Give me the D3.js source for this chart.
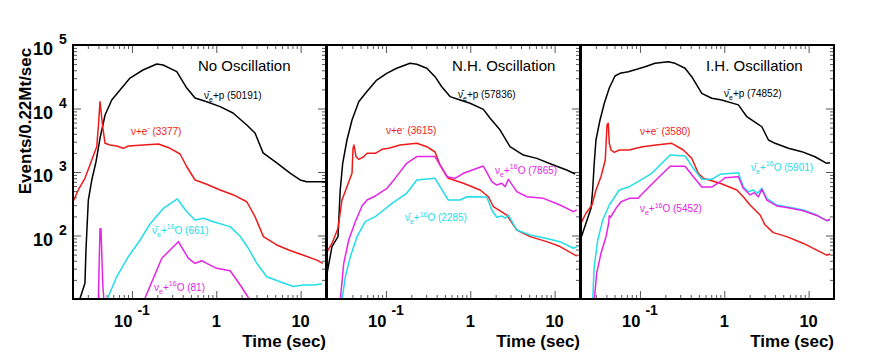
<!DOCTYPE html>
<html>
<head>
<meta charset="utf-8">
<script src="https://cdn.jsdelivr.net/npm/d3@7.9.0/dist/d3.min.js"></script>
<style>
  body { margin: 0; background: #fff; }
  svg { display: block; font-family: "Liberation Sans", Arial, Helvetica, sans-serif; }
</style>
</head>
<body>
<svg id="chart" width="872" height="364"></svg>
<script>
// panel titles and event totals
const panelTitles = ['No Oscillation', 'N.H. Oscillation', 'I.H. Oscillation'];
const countsP = [50191, 57836, 74852];
const countsE = [3377, 3615, 3580];
const countsBarO = [661, 2285, 5901];
const countsO = [81, 7865, 5452];

// [time (sec), events / 0.22Mt / sec] ; null value = gap
const noOscP = [[0.0238, 9.5], [0.0277, 17.7], [0.0285, 59], [0.0304, 362], [0.0334, 748], [0.0375, 1452], [0.0418, 3400], [0.048, 7900], [0.0576, 13600], [0.0722, 19500], [0.0949, 30200], [0.135, 40400], [0.197, 50200], [0.234, 48400], [0.34, 38000], [0.447, 21000], [0.56, 14600], [0.771, 12800], [1.11, 10700], [1.58, 8500], [2.3, 5500], [2.88, 4100], [3.59, 2000], [5.21, 1390], [7.5, 960], [9.86, 750], [11.8, 700], [19.5, 700]];
const noOscE = [[0.02, 340], [0.0231, 521], [0.0277, 796], [0.0334, 1545], [0.0382, 2500], [0.0401, 5500], [0.0418, 12800], [0.045, 5160], [0.048, 2830], [0.055, 2660], [0.0659, 2565], [0.079, 2360], [0.0906, 2565], [0.136, 2660], [0.206, 2760], [0.283, 2360], [0.372, 1920], [0.447, 1210], [0.56, 748], [0.771, 640], [1.11, 521], [1.6, 435], [2.3, 340], [2.88, 198], [3.62, 96], [5.21, 71], [7.5, 58], [10.8, 49], [15.6, 41], [18.3, 36.5]];
const noOscBarO = [[0.0502, 9.5], [0.0659, 22.4], [0.0906, 46.4], [0.125, 85], [0.164, 152], [0.236, 268], [0.345, 376], [0.447, 237], [0.56, 175], [0.703, 187], [0.923, 165], [1.46, 138], [1.91, 98], [2.4, 63], [3.02, 36.5], [3.97, 22.4], [5.71, 18.7], [8.21, 15.7], [10.8, 16.6], [14.2, 16.6], [17.8, 17.2]];
const noOscO = [[0.0399, 9], [0.0418, 128], [0.0429, 128], [0.0452, 16], [0.0467, 9], [0.1, null], [0.139, 9.5], [0.226, 43.7], [0.283, 59], [0.355, 80], [0.467, 43.7], [0.56, 36.5], [0.673, 40], [0.771, 36.5], [1.01, 30.4], [1.46, 27.9], [1.75, 19.9], [2.0, 15.3], [2.52, 9.5]];

const nhP = [[0.02, 25], [0.0229, 66.7], [0.027, 95.7], [0.0287, 521], [0.0307, 1370], [0.0345, 3190], [0.0396, 6590], [0.0476, 12800], [0.0591, 18400], [0.0778, 28100], [0.102, 35800], [0.134, 43000], [0.193, 51500], [0.232, 49700], [0.305, 43000], [0.382, 31700], [0.459, 22000], [0.576, 15400], [0.757, 13600], [0.994, 12100], [1.43, 9700], [1.72, 7020], [2.26, 4580], [2.96, 2500], [4.26, 1850], [6.15, 1640], [9.68, 1290], [13.9, 1075], [17.5, 930]];
const nhE = [[0.02, 55], [0.0229, 75], [0.027, 130], [0.0301, 362], [0.0345, 587], [0.0396, 955], [0.0407, 2360], [0.0418, 2660], [0.0442, 1740], [0.0476, 1585], [0.0545, 1740], [0.0597, 1970], [0.0749, 1970], [0.0898, 2275], [0.108, 2360], [0.147, 2660], [0.232, 2830], [0.305, 2500], [0.382, 2065], [0.438, 1290], [0.549, 796], [0.828, 664], [1.31, 521], [1.64, 408], [1.88, 284], [2.71, 210], [3.56, 122], [5.12, 96], [8.07, 80], [11.6, 67], [18.3, 47.5]];
const nhBarO = [[0.0301, 9.5], [0.033, 22.4], [0.0378, 46.4], [0.0454, 95.7], [0.0569, 165], [0.0749, 198], [0.0942, 252], [0.118, 321], [0.176, 462], [0.232, 748], [0.382, 796], [0.549, 362], [0.757, 362], [0.908, 408], [1.57, 404], [1.8, 252], [2.06, 194], [2.36, 203], [2.59, 187], [2.83, 210], [3.56, 122], [5.12, 102], [8.07, 90], [11.6, 80], [16.7, 63], [18.3, 66.5]];
const nhO = [[0.0287, 9.5], [0.0316, 36.5], [0.0362, 85], [0.0433, 165], [0.052, 292], [0.0597, 362], [0.0749, 419], [0.0898, 490], [0.103, 553], [0.129, 800], [0.176, 1370], [0.232, 1754], [0.382, 1754], [0.526, 843], [0.659, 796], [0.828, 955], [1.43, 1242], [1.8, 703], [2.06, 624], [2.36, 664], [2.59, 587], [2.83, 767], [3.56, 490], [4.68, 408], [7.36, 385], [11.6, 302], [16.7, 237], [18.3, 253]];

const ihP = [[0.02, 91], [0.0229, 156], [0.0263, 268], [0.0275, 521], [0.0287, 1370], [0.0301, 3190], [0.0336, 6590], [0.0378, 12100], [0.0433, 21000], [0.0506, 32500], [0.058, 35800], [0.0728, 38000], [0.0916, 41400], [0.115, 45500], [0.151, 51500], [0.217, 54600], [0.261, 51500], [0.343, 43000], [0.411, 31700], [0.541, 17300], [0.71, 14500], [0.933, 13600], [1.47, 11400], [1.85, 7430], [2.43, 5850], [2.79, 5160], [3.34, 3190], [4.0, 2830], [5.76, 2360], [8.3, 2090], [11.9, 1740], [16.4, 1370], [18.0, 1400]];
const ihE = [[0.02, 156], [0.0229, 224], [0.027, 302], [0.0301, 521], [0.0345, 843], [0.0388, 1545], [0.0407, 5500], [0.0421, 5850], [0.0433, 2830], [0.0454, 2220], [0.0496, 2040], [0.0569, 2220], [0.0749, 2220], [0.0898, 2360], [0.108, 2500], [0.155, 2660], [0.238, 2830], [0.327, 2220], [0.411, 1644], [0.492, 955], [0.565, 796], [0.891, 664], [1.41, 521], [1.68, 408], [2.02, 302], [2.66, 210], [3.05, 146], [3.82, 111], [5.51, 96], [8.67, 75], [12.5, 59], [16.4, 49], [18.0, 51]];
const ihBarO = [[0.0275, 9.5], [0.0287, 32.3], [0.0316, 85], [0.0362, 175], [0.0433, 302], [0.0569, 521], [0.0749, 587], [0.0949, 703], [0.138, 955], [0.228, 1854], [0.343, 1787], [0.43, 1143], [0.541, 767], [0.71, 767], [0.891, 920], [1.47, 975], [1.68, 587], [1.93, 490], [2.21, 521], [2.47, 462], [2.79, 553], [3.19, 385], [4.19, 302], [5.51, 284], [8.67, 252], [12.5, 210], [16.4, 171], [18.0, 175]];
const ihO = [[0.0287, 9.5], [0.0307, 25.4], [0.0345, 52.5], [0.0396, 95.7], [0.0424, 152], [0.0433, 205], [0.0445, 192], [0.052, 268], [0.0597, 340], [0.0749, 385], [0.0949, 385], [0.108, 462], [0.155, 748], [0.228, 1230], [0.343, 1230], [0.43, 843], [0.541, 580], [0.71, 580], [0.891, 703], [1.02, 813], [1.47, 843], [1.68, 553], [2.02, 435], [2.26, 472], [2.54, 408], [2.79, 535], [3.19, 362], [4.19, 292], [5.51, 276], [8.67, 246], [12.5, 207], [16.4, 171], [18.0, 180]];

// where each series label sits, [time, rate]
const labelAtP = [[0.716, 14100], [0.716, 14600], [0.993, 15200]];
const labelAtE = [[0.0975, 3830], [0.1, 3960], [0.1, 3830]];
const labelAtBarO = [[0.173, 106], [0.168, 169], [2.08, 1038]];
const labelAtO = [[0.183, 13.4], [1.97, 931], [0.1, 234]];

const xMajor = [0.1, 1, 10];
const yMajor = [10, 100, 1000, 10000, 100000];

// layout
const plotTop = 45, plotBottom = 299;
const panelLeft = [73, 327, 581];
const panelWidth = 253;
const colors = { p: '#000000', e: '#ee1a1a', barO: '#22dde8', o: '#e624e6' };

const labelParts = {
  p: n => [['ν\u0304', ''], ['e', 'sub'], ['+p (' + n + ')', '']],
  e: n => [['ν+e', ''], ['-', 'sup'], [' (' + n + ')', '']],
  barO: n => [['ν\u0304', ''], ['e', 'sub'], ['+', ''], ['16', 'sup'], ['O (' + n + ')', '']],
  o: n => [['ν', ''], ['e', 'sub'], ['+', ''], ['16', 'sup'], ['O (' + n + ')', '']],
};

const panels = [
  { p: noOscP, e: noOscE, barO: noOscBarO, o: noOscO },
  { p: nhP, e: nhE, barO: nhBarO, o: nhO },
  { p: ihP, e: ihE, barO: ihBarO, o: ihO },
];

function minorTicks(lo, hi) {
  let out = [];
  for (let k = Math.floor(Math.log10(lo)); k <= Math.ceil(Math.log10(hi)); k++) {
    for (let m = 2; m <= 9; m++) {
      let v = m * Math.pow(10, k);
      if (v >= lo * 0.999 && v <= hi * 1.001) out.push(v);
    }
  }
  return out;
}

function addRich(text, parts, size) {
  let shift = 0;
  parts.forEach(([s, kind]) => {
    let target = kind === 'sub' ? size * 0.3 : kind === 'sup' ? -size * 0.45 : 0;
    text.append('tspan')
      .attr('dy', target - shift)
      .attr('font-size', kind ? size * 0.7 : size)
      .text(s);
    shift = target;
  });
}

const svg = d3.select('#chart');
const y = d3.scaleLog().domain([10, 1e5]).range([plotBottom, plotTop]);

panels.forEach((panel, i) => {
  const x0 = panelLeft[i];
  const x = d3.scaleLog().domain([0.02, 20]).range([x0, x0 + panelWidth]);
  const g = svg.append('g');

  g.append('clipPath').attr('id', 'clip' + i)
    .append('rect')
    .attr('x', x0).attr('y', plotTop)
    .attr('width', panelWidth).attr('height', plotBottom - plotTop);

  // ticks (inward)
  const tickAxes = [
    [d3.axisBottom(x).tickValues(xMajor).tickSize(-8), `translate(0,${plotBottom})`],
    [d3.axisBottom(x).tickValues(minorTicks(0.02, 20)).tickSize(-4), `translate(0,${plotBottom})`],
    [d3.axisTop(x).tickValues(xMajor).tickSize(-8), `translate(0,${plotTop})`],
    [d3.axisTop(x).tickValues(minorTicks(0.02, 20)).tickSize(-4), `translate(0,${plotTop})`],
    [d3.axisRight(y).tickValues(yMajor).tickSize(-8), `translate(${x0 + panelWidth},0)`],
    [d3.axisRight(y).tickValues(minorTicks(10, 1e5)).tickSize(-4), `translate(${x0 + panelWidth},0)`],
  ];
  if (i === 0) {
    tickAxes.push([d3.axisLeft(y).tickValues(yMajor).tickSize(-8), `translate(${x0},0)`]);
    tickAxes.push([d3.axisLeft(y).tickValues(minorTicks(10, 1e5)).tickSize(-4), `translate(${x0},0)`]);
  }
  tickAxes.forEach(([axis, tr]) => {
    let a = g.append('g').attr('transform', tr).call(axis.tickFormat(''));
    a.select('.domain').remove();
    a.selectAll('line').attr('stroke', '#555');
  });

  // curves
  const line = d3.line()
    .defined(d => d[1] !== null)
    .x(d => x(d[0]))
    .y(d => y(d[1]));

  ['p', 'e', 'barO', 'o'].forEach(key => {
    g.append('path')
      .attr('clip-path', `url(#clip${i})`)
      .attr('d', line(panel[key]))
      .attr('fill', 'none')
      .attr('stroke', colors[key])
      .attr('stroke-width', 1.5)
      .attr('stroke-linejoin', 'round');
  });

  // frame
  g.append('rect')
    .attr('x', x0).attr('y', plotTop)
    .attr('width', panelWidth).attr('height', plotBottom - plotTop)
    .attr('fill', 'none').attr('stroke', '#000').attr('stroke-width', 2);

  // title
  g.append('text')
    .attr('x', x0 + 125).attr('y', 71)
    .attr('font-size', 15)
    .text(panelTitles[i]);

  // series labels
  const labels = [
    ['p', labelAtP[i], countsP[i]],
    ['e', labelAtE[i], countsE[i]],
    ['barO', labelAtBarO[i], countsBarO[i]],
    ['o', labelAtO[i], countsO[i]],
  ];
  labels.forEach(([key, at, n]) => {
    let t = g.append('text')
      .attr('x', x(at[0])).attr('y', y(at[1]))
      .attr('fill', colors[key]);
    addRich(t, labelParts[key](n), 10);
  });

  // x tick labels
  xMajor.forEach(v => {
    let exp = Math.round(Math.log10(v));
    let t = g.append('text')
      .attr('x', x(v)).attr('y', 327)
      .attr('text-anchor', 'middle')
      .attr('font-weight', 'bold');
    if (exp === 0) {
      t.append('tspan').attr('font-size', 16.5).text('1');
    } else if (exp === 1) {
      t.append('tspan').attr('font-size', 16.5).text('10');
    } else {
      t.append('tspan').attr('font-size', 16.5).text('10');
      t.append('tspan').attr('font-size', 14).attr('dx', 5).attr('dy', -12).text(String(exp));
    }
  });

  g.append('text')
    .attr('x', x0 + panelWidth).attr('y', 347)
    .attr('text-anchor', 'end')
    .attr('font-size', 17).attr('font-weight', 'bold')
    .text('Time (sec)');
});

// y tick labels (left panel only)
yMajor.filter(v => v >= 100).forEach(v => {
  let exp = Math.round(Math.log10(v));
  let t = svg.append('text')
    .attr('x', 33).attr('y', y(v) + 10)
    .attr('font-weight', 'bold');
  t.append('tspan').attr('font-size', 18).text('10');
  t.append('tspan').attr('font-size', 14).attr('dx', 6).attr('dy', -11).text(String(exp));
});

svg.append('text')
  .attr('transform', 'translate(31,121) rotate(-90)')
  .attr('text-anchor', 'middle')
  .attr('font-size', 17).attr('font-weight', 'bold')
  .text('Events/0.22Mt/sec');
</script>
</body>
</html>
